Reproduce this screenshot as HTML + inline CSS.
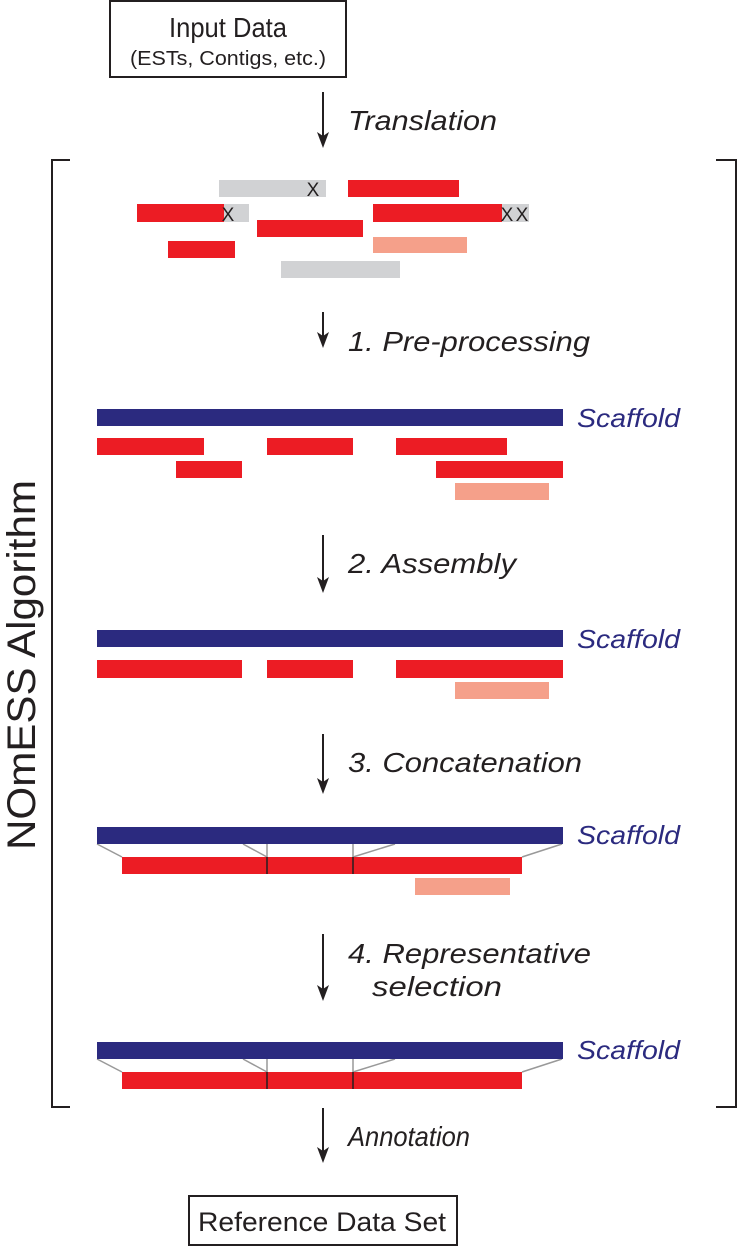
<!DOCTYPE html>
<html><head><meta charset="utf-8"><style>
body{margin:0;background:#fff}
svg{display:block;font-family:"Liberation Sans",sans-serif}
.l{font-size:28px;font-style:italic;fill:#231f20}
.s{font-size:26px;font-style:italic;fill:#2b2a7f}
</style></head><body>
<svg width="745" height="1251" viewBox="0 0 745 1251">
<g>
<rect x="110" y="1" width="236" height="76" fill="#fff" stroke="#231f20" stroke-width="2"/>
<text x="228" y="37" text-anchor="middle" font-size="28" fill="#231f20" textLength="118" lengthAdjust="spacingAndGlyphs">Input Data</text>
<text x="228" y="65" text-anchor="middle" font-size="20" fill="#231f20" textLength="196" lengthAdjust="spacingAndGlyphs">(ESTs, Contigs, etc.)</text>
</g>
<g>
<rect x="189" y="1196" width="268" height="49" fill="#fff" stroke="#231f20" stroke-width="2"/>
<text x="322" y="1231" text-anchor="middle" font-size="27" fill="#231f20" textLength="248" lengthAdjust="spacingAndGlyphs">Reference Data Set</text>
</g>
<g stroke="#231f20" stroke-width="2" fill="none">
<path d="M70,160 H52 V1107 H70"/><path d="M716,160 H736 V1107 H716"/>
</g>
<text transform="translate(35,665) rotate(-90)" text-anchor="middle" font-size="40" fill="#231f20" textLength="370" lengthAdjust="spacingAndGlyphs">NOmESS Algorithm</text>
<g stroke="#231f20" stroke-width="2">
<line x1="323" y1="92" x2="323" y2="138"/><line x1="323" y1="312" x2="323" y2="338"/>
<line x1="323" y1="535" x2="323" y2="583"/><line x1="323" y1="734" x2="323" y2="784"/>
<line x1="323" y1="934" x2="323" y2="991"/><line x1="323" y1="1108" x2="323" y2="1153"/>
</g>
<g fill="#231f20">
<path d="M317,132 L323,148 L329,132 L323,136z"/><path d="M317,332 L323,348 L329,332 L323,336z"/>
<path d="M317,577 L323,593 L329,577 L323,581z"/><path d="M317,778 L323,794 L329,778 L323,782z"/>
<path d="M317,985 L323,1001 L329,985 L323,989z"/><path d="M317,1147 L323,1163 L329,1147 L323,1151z"/>
</g>
<text class="l" x="348" y="130" textLength="149" lengthAdjust="spacingAndGlyphs">Translation</text>
<text class="l" x="348" y="351" textLength="242" lengthAdjust="spacingAndGlyphs">1. Pre-processing</text>
<text class="l" x="348" y="573" textLength="168" lengthAdjust="spacingAndGlyphs">2. Assembly</text>
<text class="l" x="348" y="772" textLength="234" lengthAdjust="spacingAndGlyphs">3. Concatenation</text>
<text class="l" x="348" y="963" textLength="243" lengthAdjust="spacingAndGlyphs">4. Representative</text>
<text class="l" x="372" y="996" textLength="130" lengthAdjust="spacingAndGlyphs">selection</text>
<text class="l" x="348" y="1146" textLength="122" lengthAdjust="spacingAndGlyphs">Annotation</text>
<g>
<rect x="219" y="180" width="107" height="17" fill="#d1d2d4"/>
<rect x="348" y="180" width="111" height="17" fill="#ec1c24"/>
<rect x="137" y="204" width="112" height="18" fill="#d1d2d4"/><rect x="137" y="204" width="87" height="18" fill="#ec1c24"/>
<rect x="373" y="204" width="156" height="18" fill="#d1d2d4"/><rect x="373" y="204" width="129" height="18" fill="#ec1c24"/>
<rect x="257" y="220" width="106" height="17" fill="#ec1c24"/>
<rect x="168" y="241" width="67" height="17" fill="#ec1c24"/>
<rect x="373" y="237" width="94" height="16" fill="#f5a08a"/>
<rect x="281" y="261" width="119" height="17" fill="#d1d2d4"/>
<g font-size="19" fill="#231f20" text-anchor="middle"><text x="313" y="196">X</text><text x="228" y="221">X</text><text x="507" y="221">X</text><text x="522" y="221">X</text></g>
</g>
<g>
<rect x="97" y="409" width="466" height="17" fill="#2b2a7f"/>
<rect x="97" y="438" width="107" height="17" fill="#ec1c24"/><rect x="267" y="438" width="86" height="17" fill="#ec1c24"/><rect x="396" y="438" width="111" height="17" fill="#ec1c24"/>
<rect x="176" y="461" width="66" height="17" fill="#ec1c24"/><rect x="436" y="461" width="127" height="17" fill="#ec1c24"/>
<rect x="455" y="483" width="94" height="17" fill="#f5a08a"/>
<text class="s" x="577" y="427" textLength="103" lengthAdjust="spacingAndGlyphs">Scaffold</text>
</g>
<g>
<rect x="97" y="630" width="466" height="17" fill="#2b2a7f"/>
<rect x="97" y="660" width="145" height="18" fill="#ec1c24"/><rect x="267" y="660" width="86" height="18" fill="#ec1c24"/><rect x="396" y="660" width="167" height="18" fill="#ec1c24"/>
<rect x="455" y="682" width="94" height="17" fill="#f5a08a"/>
<text class="s" x="577" y="648" textLength="103" lengthAdjust="spacingAndGlyphs">Scaffold</text>
</g>
<g>
<g stroke="#999" stroke-width="1.5"><line x1="97" y1="844" x2="122" y2="857"/><line x1="243" y1="844" x2="267" y2="857"/><line x1="267" y1="844" x2="267" y2="857"/><line x1="353" y1="844" x2="353" y2="857"/><line x1="395" y1="844" x2="353" y2="857"/><line x1="562" y1="844" x2="522" y2="857"/></g>
<rect x="97" y="827" width="466" height="17" fill="#2b2a7f"/>
<rect x="122" y="857" width="400" height="17" fill="#ec1c24"/>
<line x1="267" y1="857" x2="267" y2="874" stroke="#231f20" stroke-width="1.5"/><line x1="353" y1="857" x2="353" y2="874" stroke="#231f20" stroke-width="1.5"/>
<rect x="415" y="878" width="95" height="17" fill="#f5a08a"/>
<text class="s" x="577" y="844" textLength="103" lengthAdjust="spacingAndGlyphs">Scaffold</text>
</g>
<g>
<g stroke="#999" stroke-width="1.5"><line x1="97" y1="1059" x2="122" y2="1072"/><line x1="243" y1="1059" x2="267" y2="1072"/><line x1="267" y1="1059" x2="267" y2="1072"/><line x1="353" y1="1059" x2="353" y2="1072"/><line x1="395" y1="1059" x2="353" y2="1072"/><line x1="562" y1="1059" x2="522" y2="1072"/></g>
<rect x="97" y="1042" width="466" height="17" fill="#2b2a7f"/>
<rect x="122" y="1072" width="400" height="17" fill="#ec1c24"/>
<line x1="267" y1="1072" x2="267" y2="1089" stroke="#231f20" stroke-width="1.5"/><line x1="353" y1="1072" x2="353" y2="1089" stroke="#231f20" stroke-width="1.5"/>
<text class="s" x="577" y="1059" textLength="103" lengthAdjust="spacingAndGlyphs">Scaffold</text>
</g>
</svg>
</body></html>
